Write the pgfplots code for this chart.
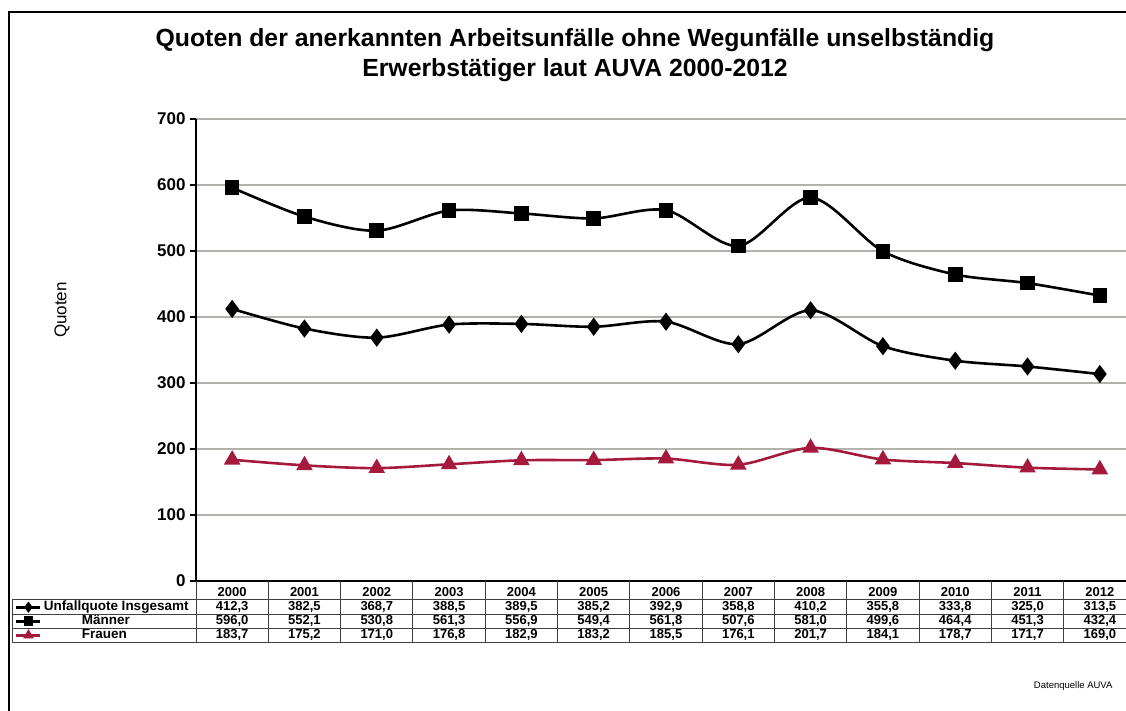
\documentclass[border=0pt]{standalone}
\usepackage{fontspec}
\setmainfont{Liberation Sans}
\usepackage{pgfplots}
\usepackage{pgfplotstable}
\pgfplotsset{compat=1.18}
\definecolor{frauen}{RGB}{165,25,60}
\definecolor{gridc}{RGB}{178,178,172}

% Quoten je 100.000 unselbstaendig Erwerbstaetige
\pgfplotstableread{
x year unfall maenner frauen
0 2000 412.3 596.0 183.7
1 2001 382.5 552.1 175.2
2 2002 368.7 530.8 171.0
3 2003 388.5 561.3 176.8
4 2004 389.5 556.9 182.9
5 2005 385.2 549.4 183.2
6 2006 392.9 561.8 185.5
7 2007 358.8 507.6 176.1
8 2008 410.2 581.0 201.7
9 2009 355.8 499.6 184.1
10 2010 333.8 464.4 178.7
11 2011 325.0 451.3 171.7
12 2012 313.5 432.4 169.0
}\quoten

\pgfplotsset{
  tabrow/.style={draw=none, mark=none, forget plot,
    point meta=explicit, nodes near coords,
    nodes near coords style={anchor=center, inner sep=0pt, black,
      font=\bfseries\fontsize{13}{13}\selectfont},
    nodes near coords={\pgfmathprintnumber[fixed,fixed zerofill,precision=1,use comma,assume math mode=true]{\pgfplotspointmeta}}},
}

\begin{document}
\begin{tikzpicture}[x=1pt,y=1pt]
\begin{axis}[
  scale only axis, width=940pt, height=462pt,
  at={(196pt,130pt)}, anchor=south west,
  xmin=-0.5, xmax=12.5, ymin=0, ymax=700,
  clip=false,
  axis x line=bottom, axis y line=left,
  axis line style={-, line width=1.5pt, black},
  xtick={0,...,12},
  xticklabels from table={\quoten}{year},
  x tick style={draw=none},
  xticklabel style={anchor=center, yshift=-5pt,
    font=\bfseries\fontsize{13}{13}\selectfont},
  ytick={0,100,...,700},
  y tick style={line width=1.2pt, black},
  tick align=outside, major tick length=6pt,
  yticklabel style={font=\bfseries\fontsize{17}{17}\selectfont, xshift=-1pt},
  /pgf/number format/assume math mode=true,
  ymajorgrids, grid style={gridc, line width=2.2pt},
  legend style={at={(-0.1926,-0.0455)}, anchor=north west, draw=none,
    fill=none, inner sep=0pt, row sep=4pt, column sep=2pt,
    nodes={text height=8pt, text depth=2pt, inner sep=0pt},
    font=\bfseries\fontsize{13.5}{13.5}\selectfont},
  legend cell align=left,
  legend image code/.code={
    \draw[#1, mark size=3.5pt, mark repeat=2, mark phase=2]
      plot coordinates {(0pt,0pt) (12pt,0pt) (24pt,0pt)};},
]
\addplot[black, line width=2.6pt, smooth, mark=diamond*, mark size=7pt,
  mark options={solid}] table[x=x, y=unfall] {\quoten};
\addlegendentry{Unfallquote Insgesamt}
\addplot[black, line width=2.6pt, smooth, mark=square*, mark size=6pt,
  mark options={solid}] table[x=x, y=maenner] {\quoten};
\addlegendentry{\hspace{38pt}Männer}
\addplot[frauen, line width=2.6pt, smooth, mark=triangle*, mark size=7pt,
  mark options={solid}] table[x=x, y=frauen] {\quoten};
\addlegendentry{\hspace{38pt}Frauen}

\addplot[tabrow] table[x=x, y expr=-39.4, meta=unfall] {\quoten};
\addplot[tabrow] table[x=x, y expr=-60.6, meta=maenner] {\quoten};
\addplot[tabrow] table[x=x, y expr=-81.8, meta=frauen] {\quoten};
\end{axis}

% Datentabelle unter der Achse
\foreach \k in {0,...,13}
  \draw[line width=0.9pt, black!75] ({196+72.3077*\k},130) -- ({196+72.3077*\k},69);
\foreach \yy in {112,97,83,69}
  \draw[line width=0.9pt, black!75] (12,\yy) -- (1140,\yy);
\draw[line width=0.9pt, black!75] (12,112) -- (12,69);

\node[align=center, font=\bfseries\fontsize{24.8}{30}\selectfont] at (575,656)
  {Quoten der anerkannten Arbeitsunfälle ohne Wegunfälle unselbständig\\
   Erwerbstätiger laut AUVA 2000-2012};
\node[rotate=90, font=\fontsize{17}{17}\selectfont] at (62,401) {Quoten};
\node[anchor=east, font=\fontsize{9.5}{9.5}\selectfont] at (1116,25) {Datenquelle AUVA};

\draw[line width=2pt] (9,-2) -- (9,699) -- (1130,699);

\pgfresetboundingbox
\useasboundingbox (0,0) rectangle (1126,711);
\end{tikzpicture}
\end{document}
